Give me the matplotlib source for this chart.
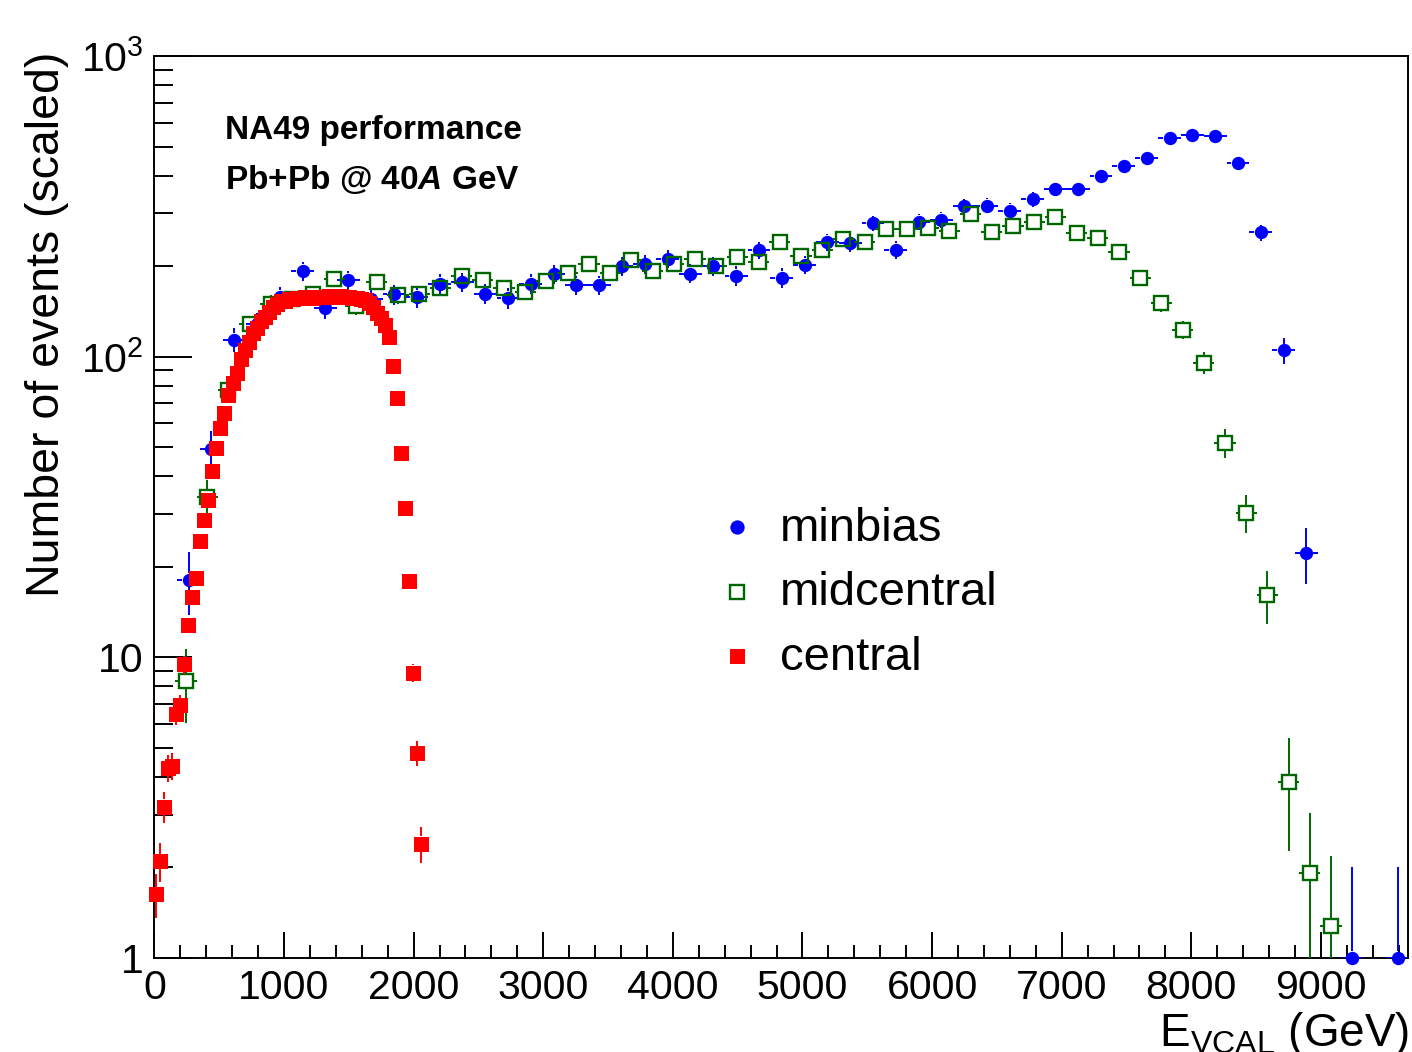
import numpy as np
import matplotlib
matplotlib.use("Agg")
import matplotlib.pyplot as plt
from matplotlib.collections import LineCollection
from matplotlib.ticker import MultipleLocator, LogLocator, NullFormatter

plt.rcParams['font.family'] = ['Liberation Sans', 'DejaVu Sans']
plt.rcParams['mathtext.fontset'] = 'custom'
plt.rcParams['mathtext.rm'] = 'Liberation Sans'
plt.rcParams['mathtext.it'] = 'Liberation Sans:italic'
plt.rcParams['mathtext.bf'] = 'Liberation Sans:bold'
plt.rcParams['mathtext.bfit'] = 'Liberation Sans:bold:italic'

# ---------------- data ----------------
series_labels = ['minbias', 'midcentral', 'central']

# minbias: bin centres start / width (GeV) and scaled counts
minbias_x0 = 264.0
minbias_width = 176.0
minbias_counts = [18.1, 49.4, 114, 128, 158, 193, 145, 180, 155, 161,
                  158, 175, 177, 162, 157, 175, 188, 173, 173, 200,
                  203, 211, 189, 200, 186, 226, 183, 202, 241, 239,
                  278, 227, 281, 285, 316, 318, 306, 334, 360, 361,
                  399, 432, 459, 533, 547, 540, 440, 259, 105, 22.2,
                  0, 1, 0, 1]
minbias_scale = 1.0

# midcentral
midcentral_x0 = 244.0
midcentral_width = 163.6
midcentral_counts = [8.34, 34.1, 77.3, 128, 150, 155, 161, 181, 147, 177,
                     160, 162, 169, 186, 180, 169, 164, 179, 190, 203,
                     190, 210, 193, 204, 212, 201, 215, 207, 241, 216,
                     226, 247, 241, 266, 266, 268, 261, 298, 259, 271,
                     281, 291, 257, 249, 223, 183, 151, 123, 95.5, 51.6,
                     30.3, 16.1, 3.84, 1.92, 1.28]
midcentral_scale = 0.64

# central
central_x0 = 15.5
central_width = 30.9
central_counts = [1.63, 2.1, 3.18, 4.29, 4.35, 6.5, 6.93, 9.48, 12.8, 15.9,
                  18.3, 24.3, 28.7, 33.4, 41.8, 49.6, 58, 65, 74.7, 81.7,
                  88.4, 98.5, 105, 112, 120, 125, 131, 136, 141, 146,
                  150, 153, 153, 155, 156, 157, 157, 158, 158, 157,
                  158, 158, 158, 159, 158, 158, 159, 158, 158, 157,
                  157, 156, 154, 151, 146, 140, 134, 127, 116, 93,
                  73, 48, 31.3, 17.9, 8.9, 4.8, 2.4]
central_scale = 0.045

x_ticks = [0, 1000, 2000, 3000, 4000, 5000, 6000, 7000, 8000, 9000]
y_ticks = [1, 10, 100, 1000]
y_ticklabels = ['1', '10', r'$10^{2}$', r'$10^{3}$']

# ---------------- figure ----------------
W, H = 1412, 1052
fig = plt.figure(figsize=(W / 100, H / 100), dpi=100)
ax_l, ax_r, ax_b, ax_t = 154.4, 1408.0, 958.0, 56.0
ax = fig.add_axes([ax_l / W, (H - ax_b) / H, (ax_r - ax_l) / W, (ax_b - ax_t) / H])
ax.set_yscale('log')
ax.set_xlim(0, 9672)
ax.set_ylim(1, 1000)

for s in ax.spines.values():
    s.set_linewidth(1.4)

ax.set_xticks(x_ticks)
ax.xaxis.set_minor_locator(MultipleLocator(200))
ax.set_yticks(y_ticks, labels=y_ticklabels)
ax.yaxis.set_minor_locator(LogLocator(base=10, subs=np.arange(2, 10)))
ax.yaxis.set_minor_formatter(NullFormatter())
ax.tick_params(axis='x', which='major', direction='in', length=18.7, width=1.4,
               labelsize=29.5, pad=8, top=False)
ax.tick_params(axis='x', which='minor', direction='in', length=9.1, width=1.4, top=False)
ax.tick_params(axis='y', which='major', direction='in', length=27, width=1.4,
               labelsize=29.5, pad=8, right=False)
ax.tick_params(axis='y', which='minor', direction='in', length=13.5, width=1.4, right=False)


def draw_hist(x, y, yerr, xhalf, color, marker, ms, mfc, mew, half_px, z):
    T = ax.transData
    inv = T.inverted()
    ybot = ax.transAxes.transform((0, 0))[1]
    segs = []
    for xi, yi, ei in zip(x, y, yerr):
        if yi <= 0:
            continue
        cx, cy = T.transform((xi, yi))
        hi = T.transform((xi, yi + ei))[1]
        if hi > cy + half_px:
            segs.append([(cx, cy + half_px), (cx, hi)])
        lo = T.transform((xi, yi - ei))[1] if yi - ei > 0 else ybot
        lo = max(lo, ybot)
        if lo < cy - half_px:
            segs.append([(cx, lo), (cx, cy - half_px)])
        xl = T.transform((xi - xhalf, yi))[0]
        xr = T.transform((xi + xhalf, yi))[0]
        if xl < cx - half_px:
            segs.append([(xl, cy), (cx - half_px, cy)])
        if xr > cx + half_px:
            segs.append([(cx + half_px, cy), (xr, cy)])
    dsegs = [inv.transform(np.array(sg)) for sg in segs]
    ax.add_collection(LineCollection(dsegs, colors=color, linewidths=1.4,
                                     zorder=z, capstyle='butt'))
    m = y > 0
    ax.plot(x[m], y[m], linestyle='none', marker=marker, ms=ms, mfc=mfc,
            mec=color, mew=mew, zorder=z + 0.5, clip_on=False)


blue, green, red = '#0000ff', '#006600', '#ff0000'

mb_y = np.array(minbias_counts, dtype=float)
mb_x = minbias_x0 + minbias_width * np.arange(len(mb_y))
draw_hist(mb_x, mb_y, np.sqrt(mb_y * minbias_scale), minbias_width / 2,
          blue, 'o', 9.6, blue, 0, 6.6, 3)

mc_y = np.array(midcentral_counts, dtype=float)
mc_x = midcentral_x0 + midcentral_width * np.arange(len(mc_y))
draw_hist(mc_x, mc_y, np.sqrt(mc_y * midcentral_scale), midcentral_width / 2,
          green, 's', 9.7, 'none', 1.7, 8.0, 5)

ce_y = np.array(central_counts, dtype=float)
ce_x = central_x0 + central_width * np.arange(len(ce_y))
draw_hist(ce_x, ce_y, np.sqrt(ce_y * central_scale), central_width / 2,
          red, 's', 10.8, red, 0, 7.5, 7)

# legend (manual, ROOT style)
leg_styles = [dict(marker='o', ms=10.3, mfc=blue, mec=blue, mew=0),
              dict(marker='s', ms=9.7, mfc='none', mec=green, mew=1.7),
              dict(marker='s', ms=10.8, mfc=red, mec=red, mew=0)]
leg_marker_y = [527, 591.5, 656]
leg_text_y = [541, 605, 670]
for lab, st, my, ty in zip(series_labels, leg_styles, leg_marker_y, leg_text_y):
    ax.plot([(737 - ax_l) / (ax_r - ax_l)], [(ax_b - my) / (ax_b - ax_t)],
            transform=ax.transAxes, linestyle='none', clip_on=False, zorder=10, **st)
    ax.text((780 - ax_l) / (ax_r - ax_l), (ax_b - ty) / (ax_b - ax_t), lab,
            transform=ax.transAxes, fontsize=34, va='baseline', ha='left')

# header text
fig.text(225 / W, (H - 139) / H, 'NA49 performance', fontsize=24,
         fontweight='bold', va='baseline', ha='left')
fig.text(225 / W, (H - 189) / H, r'Pb+Pb @ 40$\mathbfit{A}$ GeV', fontsize=24,
         fontweight='bold', va='baseline', ha='left')

# axis titles
fig.text(47 / W, (H - 52) / H, 'Number of events (scaled)', rotation=90,
         fontsize=33.5, ha='center', va='top')
fig.text(1409 / W, (H - 1046) / H, r'E$_{\mathrm{VCAL}}$ (GeV)', fontsize=33,
         ha='right', va='baseline')

fig.savefig('out.png', dpi=100)
